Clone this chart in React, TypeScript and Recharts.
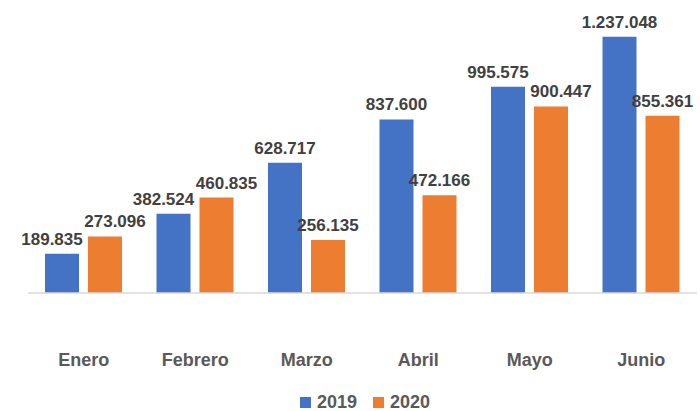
import { Bar, BarChart, Legend, XAxis, YAxis } from "recharts";

const months = ["Enero", "Febrero", "Marzo", "Abril", "Mayo", "Junio"];
const values2019 = [189835, 382524, 628717, 837600, 995575, 1237048];
const values2020 = [273096, 460835, 256135, 472166, 900447, 855361];

const COLORS = { y2019: "#4472C4", y2020: "#ED7D31" };
const FONT = "'Liberation Sans', Arial, sans-serif";

const data = months.map((m, i) => ({ month: m, y2019: values2019[i], y2020: values2020[i] }));

const fmt = (v: unknown) => String(v).replace(/\B(?=(\d{3})+(?!\d))/g, ".");

function MonthTick(props: any) {
  const { x, y, payload } = props;
  return (
    <text
      x={x}
      y={y}
      dy="0.71em"
      textAnchor="middle"
      fill="#595959"
      fontSize={18}
      fontWeight="bold"
      fontFamily={FONT}
    >
      {payload.value}
    </text>
  );
}

// pushes the two labels of a month apart when they sit at nearly the same height
function ValueLabel(props: any) {
  const { index, value, series } = props;
  const vb = props.viewBox ?? props;
  const { x, y, width, height } = vb;
  const other = series === "y2019" ? values2020[index] : values2019[index];
  const gap = Math.abs((height * other) / value - height);
  const nudge = gap < 20 ? (series === "y2019" ? -10 : 10) : 0;
  return (
    <text
      x={x + width / 2 + nudge}
      y={y - 9}
      textAnchor="middle"
      fill="#404040"
      fontSize={17}
      fontWeight="bold"
      fontFamily={FONT}
    >
      {fmt(value)}
    </text>
  );
}

function YearLegend() {
  const items = [
    { label: "2019", color: COLORS.y2019 },
    { label: "2020", color: COLORS.y2020 },
  ];
  return (
    <div
      style={{
        display: "flex",
        justifyContent: "center",
        alignItems: "center",
        paddingLeft: 5,
        fontFamily: FONT,
        fontSize: 18,
        lineHeight: "18px",
        fontWeight: "bold",
        color: "#595959",
      }}
    >
      {items.map((it, i) => (
        <span key={it.label} style={{ display: "flex", alignItems: "center", marginRight: i === 0 ? 16 : 0 }}>
          <span style={{ width: 11, height: 11, background: it.color, marginRight: 6, display: "inline-block" }} />
          {it.label}
        </span>
      ))}
    </div>
  );
}

export default function App() {
  return (
    <div style={{ position: "absolute", left: 0, top: 0, background: "#fff" }}>
      <BarChart
        width={700}
        height={411}
        data={data}
        margin={{ top: 3, right: 3, bottom: 0, left: 28 }}
        barSize={34}
        barGap={9}
      >
        <XAxis
          dataKey="month"
          height={118}
          tickLine={false}
          tickMargin={54}
          axisLine={{ stroke: "#d9d9d9", strokeWidth: 1.5 }}
          tick={<MonthTick />}
          interval={0}
        />
        <YAxis hide domain={[0, 1400000]} />
        <Legend
          verticalAlign="middle"
          align="center"
          content={<YearLegend />}
          wrapperStyle={{ top: 393, height: 18 }}
        />
        <Bar
          dataKey="y2019"
          name="2019"
          fill={COLORS.y2019}
          isAnimationActive={false}
          label={<ValueLabel series="y2019" />}
        />
        <Bar
          dataKey="y2020"
          name="2020"
          fill={COLORS.y2020}
          isAnimationActive={false}
          label={<ValueLabel series="y2020" />}
        />
      </BarChart>
    </div>
  );
}
